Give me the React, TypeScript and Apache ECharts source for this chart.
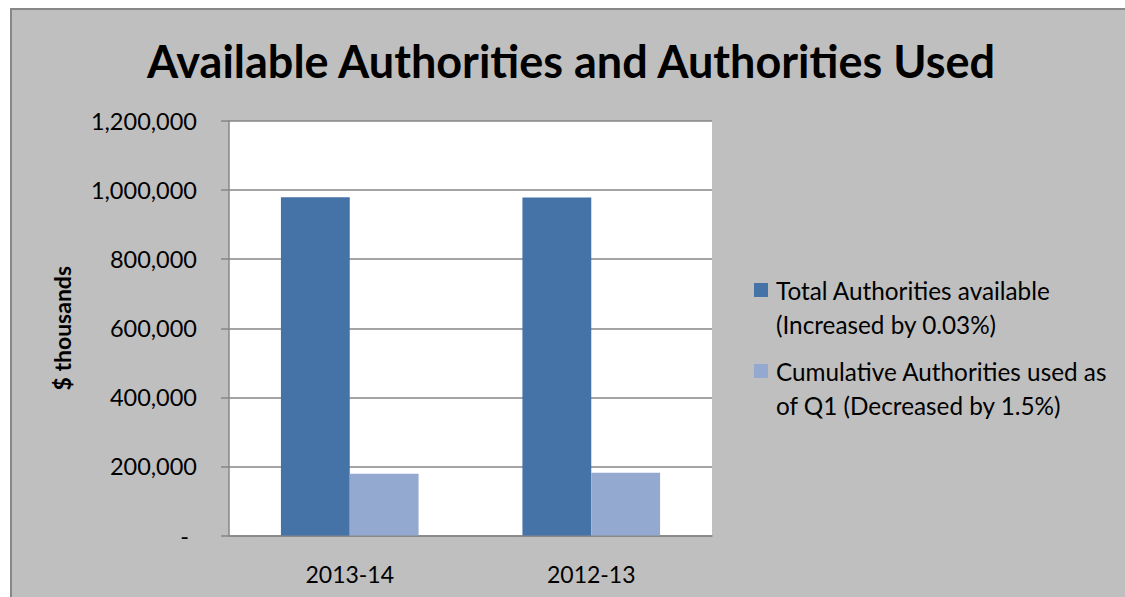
import React, { useEffect, useRef } from "react";
import * as echarts from "echarts";

const titleText = "Available Authorities and Authorities Used";
const categories = ["2013-14", "2012-13"];
const totalAvailable = [979000, 978700];
const cumulativeUsed = [178800, 181500];
const seriesNames = [
  "Total Authorities available\n(Increased by 0.03%)",
  "Cumulative Authorities used as\nof Q1 (Decreased by 1.5%)",
];
const yMin = 0;
const yMax = 1200000;
const yInterval = 200000;
const yAxisName = "$ thousands";

const FONT = "Lato";
const GRID_COLOR = "#868686";

export default function App() {
  const ref = useRef<HTMLDivElement>(null);
  useEffect(() => {
    if (!ref.current) return;
    const chart = echarts.init(ref.current, null, { renderer: "svg" });
    const legendCommon = {
      orient: "vertical",
      left: 749,
      itemWidth: 14,
      itemHeight: 14,
      icon: "rect",
      selectedMode: false,
      formatter: (name: string) => "\n" + name,
      textStyle: {
        fontFamily: FONT,
        fontSize: 24.3,
        color: "#000",
        lineHeight: 34,
        padding: [0, 0, 0, 3],
      },
    };
    chart.setOption({
      animation: false,
      backgroundColor: "transparent",
      textStyle: { fontFamily: FONT },
      graphic: [
        {
          type: "rect",
          z: -100,
          silent: true,
          shape: { x: 11, y: 9, width: 1130, height: 600 },
          style: { fill: "#BFBFBF", stroke: "#878787", lineWidth: 2 },
        },
      ],
      title: {
        text: titleText,
        left: 566,
        textAlign: "center",
        top: 33,
        textStyle: {
          fontFamily: FONT,
          fontSize: 45,
          fontWeight: "bold",
          color: "#000",
        },
      },
      legend: [
        { ...legendCommon, top: 234, data: [seriesNames[0]] },
        { ...legendCommon, top: 315, data: [seriesNames[1]] },
      ],
      grid: {
        left: 229,
        right: 413,
        top: 121,
        bottom: 61.5,
        show: true,
        backgroundColor: "#FFFFFF",
        borderWidth: 0,
      },
      xAxis: {
        type: "category",
        data: categories,
        axisLine: { show: true, lineStyle: { color: GRID_COLOR, width: 1.5 } },
        axisTick: { show: false },
        axisLabel: { fontFamily: FONT, fontSize: 23, color: "#000", margin: 27 },
      },
      yAxis: {
        type: "value",
        min: yMin,
        max: yMax,
        interval: yInterval,
        name: yAxisName,
        nameLocation: "middle",
        nameRotate: 90,
        nameGap: 156,
        nameTextStyle: {
          fontFamily: FONT,
          fontSize: 23,
          fontWeight: "bold",
          color: "#000",
        },
        axisLine: { show: true, lineStyle: { color: GRID_COLOR, width: 1.5 } },
        axisTick: {
          show: true,
          inside: false,
          length: 8,
          lineStyle: { color: GRID_COLOR, width: 1.5 },
        },
        splitLine: { show: true, lineStyle: { color: GRID_COLOR, width: 1.5 } },
        axisLabel: {
          fontFamily: FONT,
          fontSize: 23.5,
          color: "#000",
          margin: 32,
          formatter: (v: number) =>
            v === 0 ? "{z|-}" : v.toLocaleString("en-US"),
          rich: {
            z: { fontFamily: FONT, fontSize: 23.5, color: "#000", padding: [0, 8, 0, 0] },
          },
        },
      },
      series: [
        {
          name: seriesNames[0],
          type: "bar",
          data: totalAvailable,
          barGap: "0%",
          barCategoryGap: "43%",
          itemStyle: { color: "#4572A7" },
        },
        {
          name: seriesNames[1],
          type: "bar",
          data: cumulativeUsed,
          barGap: "0%",
          barCategoryGap: "43%",
          itemStyle: { color: "#93A9CF" },
        },
      ],
    });
    return () => chart.dispose();
  }, []);
  return (
    <div
      ref={ref}
      style={{ position: "absolute", left: 0, top: 0, width: 1125, height: 597 }}
    />
  );
}
